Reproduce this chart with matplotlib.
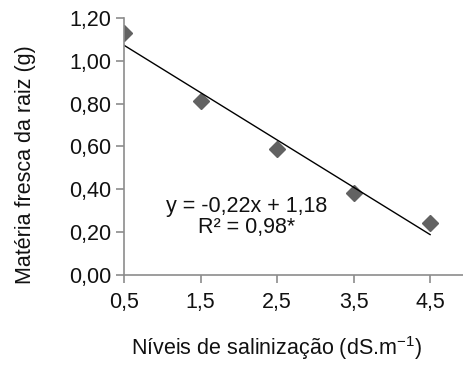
import matplotlib.pyplot as plt
import numpy as np

plt.rcParams['font.family'] = ['Liberation Sans', 'DejaVu Sans']

# Données
niveis = [0.5, 1.5, 2.5, 3.5, 4.5]
materia_fresca = [1.13, 0.81, 0.59, 0.38, 0.24]
yticks = [0.0, 0.2, 0.4, 0.6, 0.8, 1.0, 1.2]

fs = 15.5

fig = plt.figure(figsize=(4.63, 3.65), dpi=100)
ax = fig.add_axes([0.268, 0.247, 0.732, 0.704])

# Points et droite de tendance
ax.plot(niveis, materia_fresca, linestyle='None', marker='D', markersize=8, color='#626262')
coef = np.polyfit(niveis, materia_fresca, 1)
x_lin = np.array([niveis[0], niveis[-1]])
ax.plot(x_lin, np.polyval(coef, x_lin), color='black', linewidth=1)

ax.set_xlim(0.5, 4.93)
ax.set_ylim(0, 1.2)
ax.set_xticks(niveis)
ax.set_xticklabels([f'{v:.1f}'.replace('.', ',') for v in niveis])
ax.set_yticks(yticks)
ax.set_yticklabels([f'{v:.2f}'.replace('.', ',') for v in yticks])

for s in ['top', 'right']:
    ax.spines[s].set_visible(False)
for s in ['left', 'bottom']:
    ax.spines[s].set_color('#8c8c8c')
    ax.spines[s].set_linewidth(1.2)
ax.tick_params(colors='#8c8c8c', labelcolor='#111111', labelsize=fs, length=6, width=1.2)
ax.tick_params(axis='x', pad=6)

ax.set_xlabel('Níveis de salinização (dS.m$^{\\mathregular{-1}}$)', fontsize=fs, color='#111111')
ax.set_ylabel('Matéria fresca da raiz (g)', fontsize=fs, color='#111111')
ax.xaxis.set_label_coords(0.451, -0.284)
ax.yaxis.set_label_coords(-0.292, 0.43)
ax.xaxis.label.set_va('center')
ax.yaxis.label.set_va('center')

ax.text(2.1, 0.268, 'y = -0,22x + 1,18\nR² = 0,98*', ha='center', va='center',
        fontsize=fs, linespacing=1.0, color='#111111')

plt.savefig('out.png', dpi=100)
plt.close()
